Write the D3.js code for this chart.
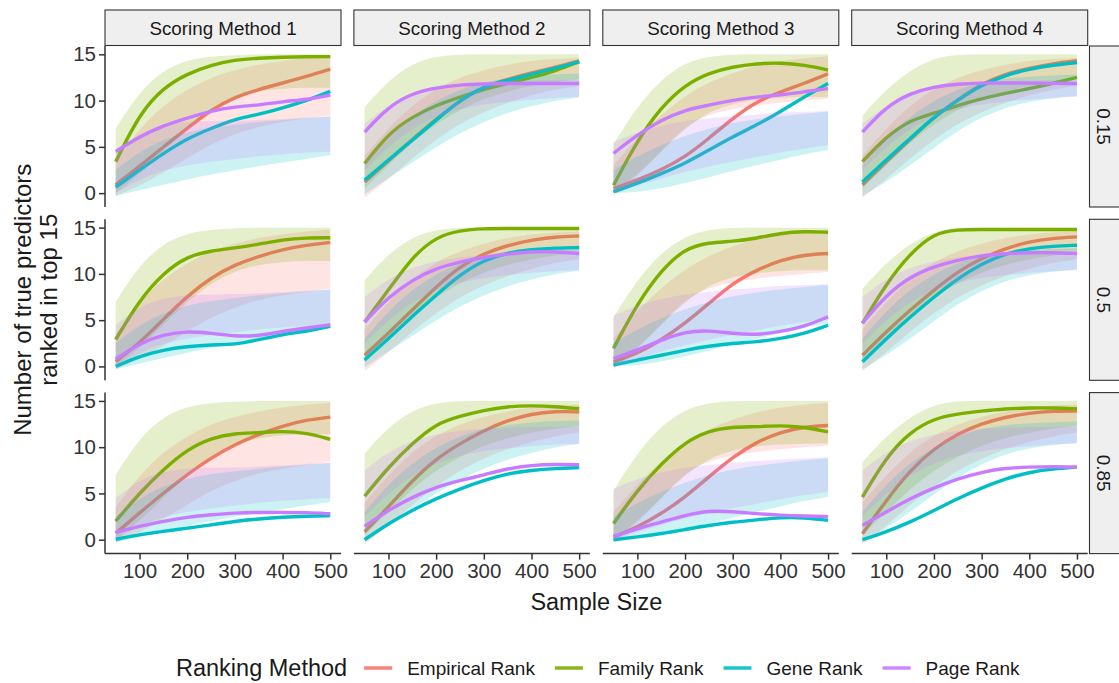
<!DOCTYPE html>
<html>
<head>
<meta charset="utf-8">
<script src="https://cdn.jsdelivr.net/npm/d3@7"></script>
<style>
  body { margin: 0; background: #fff; }
  svg { display: block; font-family: "Liberation Sans", Arial, Helvetica, sans-serif; }
</style>
</head>
<body>
<svg id="chart" width="1119" height="683"></svg>
<script>
// ---- data ----
const sampleSizes = [50, 100, 150, 200, 250, 300, 350, 400, 450, 500]
const scoringMethods = ['Scoring Method 1', 'Scoring Method 2', 'Scoring Method 3', 'Scoring Method 4']
const proportions = ['0.15', '0.5', '0.85']
const rankingMethods = ['Empirical Rank', 'Family Rank', 'Gene Rank', 'Page Rank']
const rankColors = ['#F8766D', '#7CAE00', '#00BFC4', '#C77CFF']
const xTicks = [100, 200, 300, 400, 500]
const yTicks = [0, 5, 10, 15]

// smoothed curves, one list per scoring method (columns)
const empirical015 = [
  [0.9, 2.9, 5.0, 7.0, 9.0, 10.4, 11.2, 11.9, 12.6, 13.4],
  [1.2, 3.5, 5.8, 8.0, 10.0, 11.5, 12.3, 13.0, 13.6, 14.3],
  [0.5, 1.4, 2.5, 3.9, 5.9, 8.1, 9.9, 10.95, 11.85, 12.9],
  [0.9, 3.4, 5.8, 8.2, 10.1, 11.8, 12.9, 13.5, 14.0, 14.3]
]
const family015 = [
  [3.4, 8.6, 11.4, 12.9, 13.85, 14.4, 14.6, 14.7, 14.75, 14.75],
  [3.2, 6.45, 8.25, 9.5, 10.4, 11.2, 11.85, 12.5, 13.2, 14.2],
  [0.85, 5.7, 9.3, 11.7, 13.0, 13.65, 14.0, 14.1, 13.85, 13.3],
  [3.4, 6.1, 7.9, 8.6, 9.5, 10.2, 10.8, 11.3, 11.85, 12.5]
]
const gene015 = [
  [0.65, 2.5, 4.3, 5.9, 7.0, 8.0, 8.5, 9.2, 10.0, 11.0],
  [1.4, 3.6, 5.7, 7.9, 10.05, 11.55, 12.2, 12.85, 13.5, 14.2],
  [0.15, 1.05, 2.1, 3.2, 4.65, 6.1, 7.35, 8.8, 10.4, 11.85],
  [1.2, 3.6, 5.9, 8.25, 10.05, 11.7, 12.75, 13.4, 13.85, 14.1]
]
const page015 = [
  [4.5, 6.1, 7.3, 8.1, 8.9, 9.35, 9.5, 9.9, 10.1, 10.6],
  [6.6, 9.35, 10.8, 11.4, 11.7, 11.8, 11.85, 11.85, 11.85, 11.85],
  [4.3, 6.3, 7.9, 9.0, 9.5, 10.05, 10.4, 10.6, 10.95, 11.3],
  [6.6, 9.35, 10.8, 11.5, 11.8, 11.9, 11.9, 11.9, 11.85, 11.85]
]

const empirical05 = [
  [0.55, 2.5, 5.1, 7.6, 9.6, 11.0, 11.9, 12.65, 13.1, 13.4],
  [1.2, 3.6, 6.1, 8.6, 10.8, 12.2, 13.1, 13.65, 14.0, 14.1],
  [0.5, 1.4, 2.85, 4.65, 6.8, 9.0, 10.4, 11.5, 12.05, 12.2],
  [1.2, 3.75, 6.1, 8.25, 10.25, 11.7, 12.75, 13.5, 13.85, 14.0]
]
const family05 = [
  [2.9, 7.2, 10.1, 11.9, 12.5, 12.8, 13.2, 13.7, 13.9, 13.9],
  [4.8, 8.25, 11.85, 14.0, 14.7, 14.9, 14.9, 14.9, 14.9, 14.9],
  [1.95, 6.8, 10.4, 12.75, 13.4, 13.5, 13.85, 14.4, 14.6, 14.5],
  [4.65, 8.95, 12.2, 14.4, 14.8, 14.8, 14.8, 14.8, 14.8, 14.8]
]
const gene05 = [
  [0.0, 1.1, 1.8, 2.15, 2.35, 2.35, 2.9, 3.45, 3.8, 4.35],
  [0.7, 3.0, 5.4, 7.7, 9.9, 11.5, 12.3, 12.65, 12.8, 12.85],
  [0.15, 0.7, 1.2, 1.75, 2.2, 2.5, 2.65, 3.0, 3.55, 4.45],
  [0.5, 3.0, 5.35, 7.5, 9.5, 11.1, 12.2, 12.75, 13.0, 13.1]
]
const page05 = [
  [0.8, 2.5, 3.45, 3.8, 3.6, 3.25, 3.3, 3.8, 4.15, 4.5],
  [4.8, 7.5, 9.35, 10.6, 11.3, 11.8, 12.15, 12.4, 12.4, 12.2],
  [0.85, 1.75, 2.85, 3.75, 3.9, 3.55, 3.4, 3.75, 4.3, 5.35],
  [4.7, 7.7, 9.7, 10.8, 11.5, 12.0, 12.2, 12.3, 12.3, 12.2]
]

const empirical085 = [
  [0.7, 2.9, 5.05, 7.05, 8.85, 10.3, 11.4, 12.3, 12.95, 13.25],
  [0.85, 3.55, 6.4, 8.75, 10.4, 11.8, 12.9, 13.6, 13.9, 13.8],
  [0.3, 1.35, 2.8, 4.6, 6.8, 8.95, 10.55, 11.65, 12.2, 12.35],
  [0.65, 4.25, 7.5, 9.85, 11.45, 12.55, 13.25, 13.7, 13.9, 13.9]
]
const family085 = [
  [2.0, 5.05, 7.6, 9.75, 11.0, 11.5, 11.55, 11.75, 11.55, 10.85],
  [4.7, 7.85, 10.4, 12.55, 13.35, 14.0, 14.4, 14.5, 14.4, 14.15],
  [1.75, 5.35, 8.2, 10.55, 11.8, 12.2, 12.2, 12.35, 12.2, 11.65],
  [4.6, 8.95, 11.65, 13.1, 13.6, 13.9, 14.15, 14.25, 14.25, 14.15]
]
const gene085 = [
  [0.05, 0.55, 0.9, 1.25, 1.6, 2.0, 2.25, 2.45, 2.55, 2.6],
  [0.0, 1.75, 3.2, 4.45, 5.5, 6.4, 7.15, 7.5, 7.7, 7.8],
  [0.0, 0.3, 0.65, 1.1, 1.55, 1.9, 2.15, 2.4, 2.4, 2.1],
  [0.0, 0.85, 1.9, 3.15, 4.45, 5.6, 6.6, 7.3, 7.65, 7.85]
]
const page085 = [
  [0.8, 1.45, 2.0, 2.45, 2.7, 2.9, 2.95, 2.95, 2.95, 2.8],
  [1.45, 3.2, 4.6, 5.7, 6.4, 7.0, 7.7, 8.05, 8.15, 8.1],
  [0.35, 1.2, 1.9, 2.65, 3.15, 3.05, 2.8, 2.65, 2.55, 2.5],
  [1.55, 3.0, 4.45, 5.6, 6.6, 7.3, 7.75, 7.85, 7.9, 7.85]
]

// shaded bands, the same in every row of a column
const empiricalLo = [
  [-0.3, 0.8, 2.2, 3.8, 5.3, 6.4, 7.2, 7.7, 8.1, 8.4],
  [-0.5, 1.5, 3.8, 5.8, 7.5, 8.8, 9.8, 10.6, 11.2, 11.6],
  [-0.3, 1.8, 4.5, 7.3, 8.5, 9.1, 9.5, 9.8, 10.0, 10.2],
  [-0.5, 1.5, 3.8, 5.8, 7.5, 8.8, 9.8, 10.6, 11.2, 11.6]
]
const empiricalHi = [
  [3.5, 7.0, 9.5, 11.2, 12.5, 13.3, 13.9, 14.3, 14.6, 14.8],
  [4.0, 7.0, 9.5, 11.3, 12.5, 13.3, 13.9, 14.3, 14.5, 14.6],
  [3.0, 6.0, 8.5, 10.5, 12.0, 13.0, 13.8, 14.3, 14.6, 14.8],
  [4.0, 7.0, 9.5, 11.3, 12.5, 13.3, 13.9, 14.3, 14.5, 14.6]
]
const familyLo = [
  [0.0, 2.0, 4.5, 7.0, 9.0, 10.3, 11.0, 11.3, 11.4, 11.4],
  [0.5, 3.0, 5.5, 7.5, 9.0, 10.2, 11.0, 11.6, 12.0, 12.3],
  [0.0, 2.0, 4.5, 7.0, 8.8, 9.7, 10.1, 10.3, 10.4, 10.4],
  [0.5, 3.0, 5.5, 7.5, 9.0, 10.2, 11.0, 11.6, 12.0, 12.3]
]
const familyHi = [
  [7.0, 11.0, 13.3, 14.4, 14.8, 14.9, 15.0, 15.0, 15.0, 15.0],
  [9.3, 12.2, 14.0, 14.8, 15.0, 15.0, 15.0, 15.0, 15.0, 15.0],
  [5.3, 9.4, 12.3, 14.1, 14.8, 15.0, 15.0, 15.0, 15.0, 15.0],
  [8.4, 11.2, 13.3, 14.6, 15.0, 15.0, 15.0, 15.0, 15.0, 15.0]
]
const geneLo = [
  [-0.3, 0.3, 0.9, 1.5, 2.0, 2.5, 2.9, 3.3, 3.7, 4.1],
  [-0.1, 1.6, 3.3, 5.0, 6.5, 7.7, 8.7, 9.4, 10.0, 10.35],
  [0.0, 0.1, 0.5, 1.1, 1.7, 2.4, 3.0, 3.6, 4.2, 4.65],
  [-0.3, 1.2, 3.0, 4.9, 6.75, 8.2, 9.25, 9.9, 10.25, 10.5]
]
const geneHi = [
  [2.5, 4.5, 5.8, 6.6, 7.1, 7.4, 7.7, 7.9, 8.1, 8.3],
  [3.0, 6.0, 8.3, 10.0, 11.2, 12.0, 12.4, 12.7, 12.85, 12.9],
  [2.5, 4.0, 5.2, 6.2, 7.0, 7.6, 8.0, 8.3, 8.6, 8.8],
  [3.0, 6.0, 8.3, 10.0, 11.2, 12.0, 12.4, 12.6, 12.7, 12.8]
]
const pageLo = [
  [0.0, 1.5, 2.5, 3.0, 3.4, 3.7, 4.0, 4.2, 4.4, 4.5],
  [2.5, 5.0, 7.0, 8.3, 9.1, 9.6, 9.9, 10.1, 10.3, 10.4],
  [0.0, 0.8, 1.6, 2.3, 2.9, 3.4, 3.9, 4.4, 4.8, 5.2],
  [2.5, 5.0, 7.0, 8.3, 9.1, 9.6, 9.9, 10.1, 10.3, 10.4]
]
const pageHi = [
  [4.5, 6.5, 7.4, 7.7, 7.8, 7.8, 7.9, 8.0, 8.2, 8.3],
  [7.5, 9.5, 10.7, 11.4, 11.8, 12.0, 12.1, 12.2, 12.2, 12.2],
  [5.5, 6.6, 7.3, 7.8, 8.1, 8.3, 8.5, 8.7, 8.8, 8.9],
  [7.5, 9.5, 10.7, 11.4, 11.8, 12.0, 12.1, 12.2, 12.2, 12.2]
]

// rows x methods
const curves = [
  [empirical015, family015, gene015, page015],
  [empirical05, family05, gene05, page05],
  [empirical085, family085, gene085, page085]
]
const bands = [[empiricalLo, empiricalHi], [familyLo, familyHi], [geneLo, geneHi], [pageLo, pageHi]]

// ---- layout ----
const svg = d3.select('#chart')
const panelLeft = 105, colStep = 248.9, panelW = 236
const panelTop = 46, rowStep = 173.3, panelH = 161
const textDark = '#1a1a1a', axisCol = '#333'

const x = d3.scaleLinear().domain([27.5, 522.5]).range([0, panelW])
const y = d3.scaleLinear().domain([-1.5, 15.9]).range([panelH, 0])

const line = d3.line()
  .x((d, i) => x(sampleSizes[i]))
  .y(d => y(d))
  .curve(d3.curveBasis)

const area = d3.area()
  .x(d => x(d.n))
  .y0(d => y(d.lo))
  .y1(d => y(d.hi))
  .curve(d3.curveBasis)

// column strips
scoringMethods.forEach((name, c) => {
  const g = svg.append('g').attr('transform', `translate(${panelLeft + c * colStep},10)`)
  g.append('rect').attr('width', panelW).attr('height', 35.5)
    .attr('fill', '#efefef').attr('stroke', axisCol).attr('stroke-width', 1.1)
  g.append('text').attr('x', panelW / 2).attr('y', 25)
    .attr('text-anchor', 'middle').attr('font-size', 18.8).attr('fill', textDark)
    .text(name)
})

proportions.forEach((prop, r) => {
  const top = panelTop + r * rowStep

  // row strip on the right
  const sg = svg.append('g').attr('transform', `translate(1089.5,${top})`)
  sg.append('rect').attr('width', 36).attr('height', panelH)
    .attr('fill', '#efefef').attr('stroke', axisCol).attr('stroke-width', 1.1)
  sg.append('text')
    .attr('transform', `translate(14.5,${panelH / 2}) rotate(90)`)
    .attr('text-anchor', 'middle').attr('dy', '0.35em')
    .attr('font-size', 18.8).attr('fill', textDark)
    .text(prop)

  scoringMethods.forEach((m, c) => {
    const g = svg.append('g').attr('transform', `translate(${panelLeft + c * colStep},${top})`)

    // ribbon then line for each ranking method, in order
    rankingMethods.forEach((rm, k) => {
      const [loArr, hiArr] = bands[k]
      const pts = sampleSizes.map((n, i) => ({ n, lo: loArr[c][i], hi: hiArr[c][i] }))
      g.append('path').attr('d', area(pts))
        .attr('fill', rankColors[k]).attr('fill-opacity', 0.2)
      g.append('path').attr('d', line(curves[r][k][c]))
        .attr('fill', 'none').attr('stroke', rankColors[k])
        .attr('stroke-width', 3.4).attr('stroke-linejoin', 'round')
    })

    if (c === 0) {
      const yAxis = g.append('g').call(d3.axisLeft(y).tickValues(yTicks).tickSize(6).tickPadding(3))
      yAxis.select('.domain').attr('d', `M0,0V${panelH}`)
      styleAxis(yAxis)
    }
    if (r === proportions.length - 1) {
      const xAxis = g.append('g').attr('transform', `translate(0,${panelH})`)
        .call(d3.axisBottom(x).tickValues(xTicks).tickSize(6).tickPadding(4))
      xAxis.select('.domain').attr('d', `M0,0H${panelW}`)
      styleAxis(xAxis)
    }
  })
})

function styleAxis(ax) {
  ax.select('.domain').attr('stroke', axisCol).attr('stroke-width', 1.5)
  ax.selectAll('.tick line').attr('stroke', axisCol).attr('stroke-width', 1.5)
  ax.selectAll('.tick text').attr('fill', '#333').attr('font-size', 20.5)
    .attr('font-family', '"Liberation Sans", Arial, sans-serif')
}

// axis titles
const plotMidX = panelLeft + (3 * colStep + panelW) / 2
svg.append('text').attr('x', plotMidX).attr('y', 610)
  .attr('text-anchor', 'middle').attr('font-size', 23.5).attr('fill', textDark)
  .text('Sample Size')

const plotMidY = panelTop + (2 * rowStep + panelH) / 2
const yTitle = svg.append('text')
  .attr('transform', `translate(31,${plotMidY}) rotate(-90)`)
  .attr('text-anchor', 'middle').attr('font-size', 24).attr('fill', textDark)
yTitle.append('tspan').attr('x', 0).attr('y', 0).text('Number of true predictors')
yTitle.append('tspan').attr('x', 0).attr('y', 26).text('ranked in top 15')

// legend
const legend = svg.append('g').attr('transform', 'translate(176,668)')
const lt = legend.append('text').attr('y', 8).attr('font-size', 23.5).attr('fill', textDark)
  .text('Ranking Method')
let lx = lt.node().getComputedTextLength() + 17
rankingMethods.forEach((rm, k) => {
  legend.append('line').attr('x1', lx).attr('x2', lx + 28).attr('y1', 0).attr('y2', 0)
    .attr('stroke', rankColors[k]).attr('stroke-width', 3.5).attr('stroke-opacity', 0.9)
  const t = legend.append('text').attr('x', lx + 43).attr('y', 6.5)
    .attr('font-size', 19).attr('fill', textDark).text(rm)
  lx += 43 + t.node().getComputedTextLength() + 20
})
</script>
</body>
</html>
